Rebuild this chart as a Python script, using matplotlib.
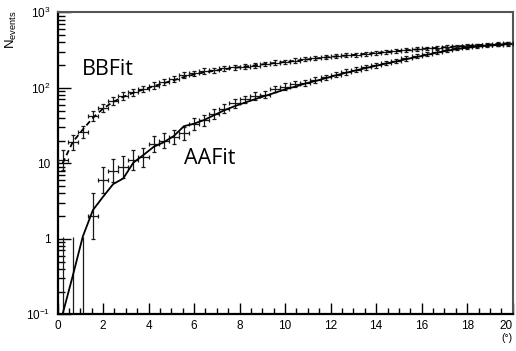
import numpy as np
import matplotlib
matplotlib.use("Agg")
import matplotlib.pyplot as plt
from matplotlib.ticker import FixedLocator, LogLocator, NullFormatter, FixedFormatter

plt.rcParams['mathtext.fontset'] = 'custom'
plt.rcParams['mathtext.rm'] = 'Liberation Sans'
plt.rcParams['mathtext.it'] = 'Liberation Sans:italic'
plt.rcParams['font.family'] = ['Liberation Sans', 'DejaVu Sans']

# ---- data ----
x_min, x_max, n_bins = 0.0, 20.0, 45

aa_counts = [0, 0, 0, 2, 6, 8, 9, 11, 12, 18, 20, 22, 25, 33, 37, 45, 53, 62, 70, 78,
             81, 96, 104, 112, 117, 127, 137, 150, 162, 174, 186, 199, 213, 228, 245,
             262, 280, 300, 318, 332, 345, 356, 366, 374, 382]
bb_counts = [11, 19, 26, 42, 54, 67, 78, 87, 96, 107, 120, 130, 148, 156, 167, 172, 181,
             186, 190, 196, 207, 215, 220, 229, 238, 246, 256, 262, 268, 274, 282, 290,
             298, 305, 315, 325, 332, 340, 347, 353, 360, 366, 372, 380, 388]

aa_fit = [0.1, 0.32, 1.07, 2.4, 3.6, 5.3, 6.3, 10.2, 12.9, 16.5, 19.0, 23.0, 31, 33.5,
          37.5, 43.5, 50.5, 57, 63.5, 70.5, 78, 86, 95.5, 103.5, 114, 123, 134, 146,
          158, 170, 183, 196, 210, 224, 240, 256, 273, 292, 310, 326, 340, 352, 362,
          372, 380]
bb_fit = [10, 19, 28, 40, 53, 65, 76, 86, 95, 105, 115, 126, 139, 150, 160, 168, 176,
          184, 191, 198, 206, 213, 220, 228, 236, 244, 252, 260, 267, 274, 282, 290,
          298, 306, 314, 322, 330, 338, 346, 353, 360, 367, 374, 381, 388]

x_ticks = [0, 2, 4, 6, 8, 10, 12, 14, 16, 18, 20]
y_ticks = [0.1, 1, 10, 100, 1000]
y_tick_labels = [r'$10^{-1}$', '1', '10', r'$10^{2}$', r'$10^{3}$']

# ---- figure ----
fig = plt.figure(figsize=(5.16, 3.51), dpi=100)
ax = fig.add_axes([57.5/516, 1-314.3/351, (512.7-57.5)/516, (314.3-12.3)/351])

edges = np.linspace(x_min, x_max, n_bins + 1)
centers = 0.5 * (edges[:-1] + edges[1:])
half = 0.5 * (edges[1] - edges[0])

def draw_hist(counts):
    c = np.asarray(counts, dtype=float)
    nz = c > 0
    rel = np.zeros_like(c)
    rel[nz] = 1.0 / np.sqrt(c[nz])
    lo = c * (1 - np.exp(-rel))
    hi = c * (np.exp(rel) - 1)
    ax.errorbar(centers[nz], c[nz], xerr=half, yerr=[lo[nz], hi[nz]],
                fmt='none', ecolor='#1a1a1a', elinewidth=0.9, capsize=1.5,
                capthick=0.9, zorder=3)
    z = ~nz
    if z.any():
        ax.vlines(centers[z], 0.1, 1.05, colors='#1a1a1a', linewidth=0.9, zorder=3)

draw_hist(bb_counts)
draw_hist(aa_counts)

ax.plot(centers, bb_fit, color='black', lw=1.3, ls=(0, (3, 2)), zorder=4)
ax.plot(centers, aa_fit, color='black', lw=1.3, ls='-', zorder=4)

ax.set_xlim(x_min, x_max)
ax.set_yscale('log')
ax.set_ylim(0.1, 1000)

ax.xaxis.set_major_locator(FixedLocator(x_ticks))
ax.xaxis.set_minor_locator(FixedLocator(np.arange(0, 20.01, 0.5)))
ax.set_xticklabels([str(t) for t in x_ticks])
ax.yaxis.set_major_locator(FixedLocator(y_ticks))
ax.yaxis.set_major_formatter(FixedFormatter(y_tick_labels))
ax.yaxis.set_minor_locator(LogLocator(base=10, subs=np.arange(2, 10)))
ax.yaxis.set_minor_formatter(NullFormatter())

ax.tick_params(which='both', direction='in', top=False, right=False,
               labelsize=8.5, color='black')
ax.tick_params(axis='x', which='major', length=8, width=1.0, pad=4)
ax.tick_params(axis='x', which='minor', length=4, width=1.0)
ax.tick_params(axis='y', which='major', length=9, width=1.0, pad=5)
ax.tick_params(axis='y', which='minor', length=5, width=1.0)

# last x label sits inside the figure, right-aligned on its tick
ax.get_xticklabels()[-1].set_horizontalalignment('right')

for s in ['left', 'bottom']:
    ax.spines[s].set_linewidth(1.6)
    ax.spines[s].set_color('black')
for s in ['top', 'right']:
    ax.spines[s].set_linewidth(1.5)
    ax.spines[s].set_color('#555555')

ax.text(1.08, 175, 'BBFit', fontsize=15.5, family='Open Sans', va='center', ha='left')
ax.text(5.55, 11.7, 'AAFit', fontsize=15.5, family='Open Sans', va='center', ha='left')

fig.text(513/516, 1-338/351, '(°)', fontsize=7.5, ha='right', va='center')
fig.text(11/516, 1-10/351, r'$\mathrm{N}_{\mathrm{events}}$', fontsize=9.5,
         rotation=90, ha='center', va='top')

fig.savefig('out.png', dpi=100)
